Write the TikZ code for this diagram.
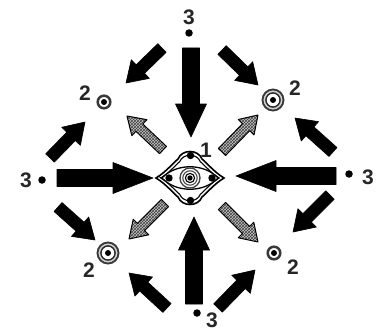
\documentclass[tikz,border=0pt]{standalone}
\usepackage{fontspec}
\setmainfont{Liberation Sans}
\usetikzlibrary{calc,patterns}
% fat arrow polygon: #1 style, #2 tail, #3 tip, #4 shaft half width, #5 head half width, #6 head length
\newcommand{\fatarrow}[6]{%
  \path[#1] ($(#2)!#4!90:(#3)$) -- ($(#3)!#6!(#2)!#4!-90:(#2)$) -- ($(#3)!#6!(#2)!#5!-90:(#2)$) -- (#3)
    -- ($(#3)!#6!(#2)!#5!90:(#2)$) -- ($(#3)!#6!(#2)!#4!90:(#2)$) -- ($(#2)!#4!-90:(#3)$) -- cycle;}
\newcommand{\eyeoutline}{(156,178) .. controls (166,172) and (173,163) .. (178,159)
  .. controls (182,149) and (198,149) .. (202,159) .. controls (207,163) and (214,172) .. (224,178)
  .. controls (214,184) and (207,193) .. (202,197) .. controls (198,207) and (182,207) .. (178,197)
  .. controls (173,193) and (166,184) .. cycle}
\begin{document}
\begin{tikzpicture}[x=1pt,y=-1pt,
  lbl/.style={font=\bfseries\fontsize{21}{21}\selectfont, inner sep=0pt, text=black!85},
  srcdot/.style={circle, fill=black, inner sep=0pt, minimum size=7.5pt},
  blackarrow/.style={fill=black, draw=black, line width=0.6pt, line join=round},
  hatcharrow/.style={draw=black, line width=1pt, line join=round, preaction={fill=gray!45}, pattern=crosshatch, pattern color=black!75},
  ringdark/.style={draw=gray!45!black},
]
\useasboundingbox[fill=white] (0,0) rectangle (379,334);

% sources "3"
\node[lbl] (t3) at (189,17) {3};
\node[srcdot] (td) at (189,33) {};
\node[lbl] (l3) at (26,180) {3};
\node[srcdot] (ld) at (42,180) {};
\node[lbl] (r3) at (368,177) {3};
\node[srcdot] (rd) at (349,174) {};
\node[lbl] (b3) at (212,320) {3};
\node[srcdot] (bd) at (197,313) {};

% big arrows
\coordinate (ta0) at (191,48);  \coordinate (ta1) at (191,137);
\coordinate (ba0) at (194,304); \coordinate (ba1) at (194,217);
\coordinate (la0) at (57,178);  \coordinate (la1) at (153,178);
\coordinate (ra0) at (336,176); \coordinate (ra1) at (236,176);
\fatarrow{blackarrow}{ta0}{ta1}{8.5pt}{15.5pt}{33pt}
\fatarrow{blackarrow}{ba0}{ba1}{8.5pt}{15.5pt}{33pt}
\fatarrow{blackarrow}{la0}{la1}{8.5pt}{15.5pt}{40pt}
\fatarrow{blackarrow}{ra0}{ra1}{8.5pt}{15.5pt}{40pt}

% diagonal black arrows
\coordinate (a1s) at (162,48);  \coordinate (a1e) at (126,83);
\coordinate (a2s) at (50,158);  \coordinate (a2e) at (85,122);
\coordinate (b1s) at (222,50);  \coordinate (b1e) at (258,85);
\coordinate (b2s) at (333,152); \coordinate (b2e) at (295,118);
\coordinate (c1s) at (58,207);  \coordinate (c1e) at (95,240);
\coordinate (c2s) at (167,308); \coordinate (c2e) at (129,273);
\coordinate (d1s) at (330,195); \coordinate (d1e) at (293,232);
\coordinate (d2s) at (218,308); \coordinate (d2e) at (255,270);
\foreach \s/\e in {a1s/a1e,a2s/a2e,b1s/b1e,b2s/b2e,c1s/c1e,c2s/c2e,d1s/d1e,d2s/d2e}
  {\fatarrow{blackarrow}{\s}{\e}{6pt}{13pt}{20pt}}

% hatched arrows from the centre
\coordinate (h1s) at (163,150); \coordinate (h1e) at (127,116);
\coordinate (h2s) at (222,152); \coordinate (h2e) at (258,115);
\coordinate (h3s) at (165,203); \coordinate (h3e) at (129,239);
\coordinate (h4s) at (222,206); \coordinate (h4e) at (258,242);
\foreach \s/\e in {h1s/h1e,h2s/h2e,h3s/h3e,h4s/h4e}
  {\fatarrow{hatcharrow}{\s}{\e}{5pt}{11pt}{17pt}}

% corner targets "2"
\coordinate (tl) at (104,102);
\coordinate (tr) at (273,100);
\coordinate (bl) at (108,253);
\coordinate (br) at (274,253);
\foreach \c in {tl,br}{
  \draw[ringdark, line width=2.5pt] (\c) circle (6.3);
  \fill[black] (\c) circle (3);
}
\foreach \c in {tr,bl}{
  \fill[gray!35] (\c) circle (11.5);
  \draw[ringdark, line width=1.8pt] (\c) circle (10.5);
  \draw[black!85, line width=1.6pt] (\c) circle (7);
  \fill[white] (\c) circle (6.2);
  \fill[black] (\c) circle (3);
}
\node[lbl] (tl2) at (85,93) {2};
\node[lbl] (tr2) at (295,88) {2};
\node[lbl] (bl2) at (89,270) {2};
\node[lbl] (br2) at (293,267) {2};

% central source "1"
\fill[white] \eyeoutline;
\draw[black, line width=1.6pt] \eyeoutline;
\begin{scope}[scale around={0.86:(190,178)}]
  \draw[black, line width=1.1pt] \eyeoutline;
\end{scope}
\draw[black, line width=1.3pt, fill=white] (162,178) .. controls (176,163) and (204,163) .. (218,178)
  .. controls (204,193) and (176,193) .. cycle;
\fill[black] (169,178) circle (3.7);
\fill[black] (212,178) circle (3.7);
\fill[black] (190.5,155.5) circle (3.7);
\fill[black] (190.5,200.5) circle (3.7);
\coordinate (ctr) at (190,178);
\draw[gray!50!black, line width=1.3pt] (ctr) circle (10);
\draw[gray!60!black, line width=1.1pt] (ctr) circle (7.2);
\draw[black, line width=1.1pt] (ctr) circle (4.6);
\fill[black] (ctr) circle (2.7);
\node[lbl] (one) at (206,150) {1};
\end{tikzpicture}
\end{document}
